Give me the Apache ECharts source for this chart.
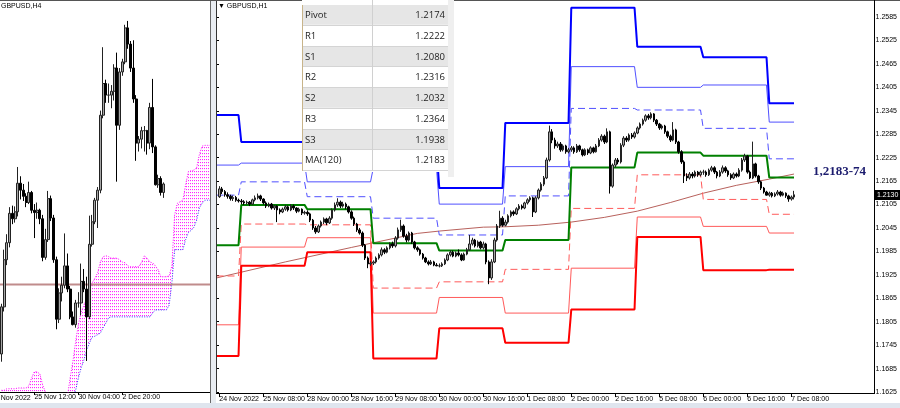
<!DOCTYPE html>
<html><head><meta charset="utf-8">
<script src="https://cdn.jsdelivr.net/npm/echarts@6/dist/echarts.min.js"></script>
<style>html,body{margin:0;padding:0;background:#fff}#c{width:900px;height:408px}</style>
</head><body><div id="c"></div>
<script>
// ================= DATA =================
const h1TickLabels = ['24 Nov 2022','25 Nov 08:00','28 Nov 00:00','28 Nov 16:00','29 Nov 08:00','30 Nov 00:00','30 Nov 16:00','1 Dec 08:00','2 Dec 00:00','2 Dec 16:00','5 Dec 08:00','6 Dec 00:00','6 Dec 16:00','7 Dec 08:00'];
const h4TickLabels = ['25 Nov 12:00','30 Nov 04:00','2 Dec 20:00'];
const h4FirstLabel = '24 Nov 2022';
const priceTickMin = 1.1625, priceTickMax = 1.2585, priceTickStep = 0.006;

// H1 bars: [open, close, low, high]
const h1Bars = [
[1.2125,1.2145,1.2122,1.2152],[1.2145,1.2138,1.2132,1.2150],[1.2138,1.2130,1.2125,1.2142],[1.2130,1.2126,1.2120,1.2136],
[1.2126,1.2120,1.2115,1.2130],[1.2120,1.2123,1.2114,1.2128],[1.2123,1.2116,1.2112,1.2127],[1.2116,1.2114,1.2110,1.2120],
[1.2114,1.2112,1.2106,1.2119],[1.2112,1.2109,1.2104,1.2116],[1.2109,1.2111,1.2105,1.2115],[1.2111,1.2106,1.2101,1.2114],
[1.2106,1.2117,1.2104,1.2120],[1.2117,1.2122,1.2113,1.2128],[1.2122,1.2127,1.2118,1.2133],[1.2127,1.2119,1.2114,1.2130],
[1.2119,1.2109,1.2105,1.2121],[1.2109,1.2101,1.2096,1.2113],[1.2101,1.2106,1.2098,1.2110],[1.2106,1.2096,1.2092,1.2109],
[1.2096,1.2101,1.2091,1.2104],[1.2101,1.2091,1.2060,1.2103],[1.2091,1.2086,1.2080,1.2095],[1.2086,1.2093,1.2083,1.2097],
[1.2093,1.2099,1.2089,1.2104],[1.2099,1.2091,1.2087,1.2102],[1.2091,1.2101,1.2088,1.2106],[1.2101,1.2096,1.2091,1.2105],
[1.2096,1.2088,1.2083,1.2098],[1.2088,1.2093,1.2085,1.2097],[1.2093,1.2083,1.2078,1.2095],[1.2083,1.2085,1.2079,1.2089],
[1.2085,1.2081,1.2076,1.2090],[1.2081,1.2065,1.2060,1.2084],[1.2065,1.2045,1.2040,1.2068],[1.2045,1.2035,1.2030,1.2050],
[1.2035,1.2050,1.2032,1.2054],[1.2050,1.2060,1.2046,1.2064],[1.2060,1.2068,1.2055,1.2072],[1.2068,1.2058,1.2052,1.2071],
[1.2058,1.2070,1.2055,1.2075],[1.2070,1.2091,1.2066,1.2095],[1.2091,1.2104,1.2087,1.2110],[1.2104,1.2111,1.2099,1.2121],
[1.2111,1.2101,1.2096,1.2115],[1.2101,1.2106,1.2097,1.2112],[1.2106,1.2099,1.2093,1.2110],[1.2099,1.2086,1.2082,1.2102],
[1.2086,1.2070,1.2066,1.2090],[1.2070,1.2055,1.2050,1.2074],[1.2055,1.2040,1.2035,1.2058],[1.2040,1.2032,1.2028,1.2045],
[1.2032,1.2001,1.1996,1.2036],[1.2001,1.1968,1.1963,1.2004],[1.1968,1.1953,1.1942,1.1972],[1.1953,1.1955,1.1948,1.1960],
[1.1955,1.1958,1.1950,1.1962],[1.1958,1.1968,1.1954,1.1972],[1.1968,1.1976,1.1964,1.1980],[1.1976,1.1989,1.1972,1.1995],
[1.1989,1.1983,1.1978,1.1993],[1.1983,1.1994,1.1980,1.1998],[1.1994,1.2004,1.1990,1.2008],[1.2004,1.1999,1.1994,1.2010],
[1.1999,1.2019,1.1995,1.2024],[1.2019,1.2040,1.2015,1.2046],[1.2040,1.2050,1.2035,1.2066],[1.2050,1.2024,1.2020,1.2054],
[1.2024,1.2014,1.2008,1.2030],[1.2014,1.2032,1.2010,1.2036],[1.2032,1.2009,1.2004,1.2035],[1.2009,1.1994,1.1990,1.2012],
[1.1994,1.1989,1.1984,1.1998],[1.1989,1.1978,1.1974,1.1992],[1.1978,1.1968,1.1964,1.1981],[1.1968,1.1958,1.1955,1.1971],
[1.1958,1.1953,1.1949,1.1962],[1.1953,1.1958,1.1950,1.1963],[1.1958,1.1950,1.1947,1.1961],[1.1950,1.1948,1.1947,1.1955],
[1.1948,1.1948,1.1944,1.1954],[1.1948,1.1953,1.1945,1.1957],[1.1953,1.1963,1.1950,1.1967],[1.1963,1.1976,1.1960,1.1980],
[1.1976,1.1983,1.1972,1.1988],[1.1983,1.1973,1.1970,1.1987],[1.1973,1.1981,1.1970,1.1985],[1.1981,1.1976,1.1972,1.1990],
[1.1976,1.1963,1.1960,1.1980],[1.1963,1.1978,1.1961,1.1982],[1.1978,1.1989,1.1975,1.1994],[1.1989,1.2004,1.1986,1.2027],
[1.2004,1.2014,1.2000,1.2020],[1.2014,1.1999,1.1995,1.2017],[1.1999,1.2009,1.1995,1.2013],[1.2009,1.1994,1.1990,1.2012],
[1.1994,1.2004,1.1990,1.2010],[1.2004,1.1958,1.1952,1.2007],[1.1958,1.1917,1.1901,1.1962],[1.1917,1.1958,1.1912,1.1965],
[1.1958,1.2014,1.1955,1.2020],[1.2014,1.2050,1.2010,1.2055],[1.2050,1.2070,1.2045,1.2089],[1.2070,1.2052,1.2048,1.2075],
[1.2052,1.2060,1.2049,1.2066],[1.2060,1.2076,1.2056,1.2080],[1.2076,1.2086,1.2072,1.2090],[1.2086,1.2081,1.2076,1.2090],
[1.2081,1.2094,1.2078,1.2098],[1.2094,1.2101,1.2090,1.2106],[1.2101,1.2096,1.2092,1.2105],[1.2096,1.2109,1.2093,1.2112],
[1.2109,1.2117,1.2105,1.2121],[1.2117,1.2122,1.2112,1.2126],[1.2122,1.2086,1.2073,1.2125],[1.2086,1.2122,1.2083,1.2126],
[1.2122,1.2142,1.2118,1.2146],[1.2142,1.2157,1.2138,1.2162],[1.2157,1.2173,1.2152,1.2178],[1.2173,1.2219,1.2170,1.2225],
[1.2219,1.2291,1.2215,1.2307],[1.2291,1.2270,1.2262,1.2298],[1.2270,1.2255,1.2248,1.2276],[1.2255,1.2260,1.2250,1.2266],
[1.2260,1.2245,1.2240,1.2265],[1.2245,1.2255,1.2241,1.2259],[1.2255,1.2240,1.2235,1.2258],[1.2240,1.2245,1.2236,1.2250],
[1.2245,1.2250,1.2240,1.2255],[1.2250,1.2240,1.2235,1.2254],[1.2240,1.2255,1.2237,1.2260],[1.2255,1.2245,1.2240,1.2258],
[1.2245,1.2232,1.2228,1.2248],[1.2232,1.2245,1.2229,1.2249],[1.2245,1.2237,1.2232,1.2248],[1.2237,1.2250,1.2234,1.2254],
[1.2250,1.2240,1.2236,1.2253],[1.2240,1.2255,1.2238,1.2260],[1.2255,1.2270,1.2252,1.2275],[1.2270,1.2280,1.2266,1.2285],
[1.2280,1.2265,1.2260,1.2284],[1.2265,1.2291,1.2262,1.2300],[1.2291,1.2152,1.2133,1.2294],[1.2152,1.2206,1.2148,1.2210],
[1.2206,1.2219,1.2200,1.2224],[1.2219,1.2214,1.2208,1.2224],[1.2214,1.2257,1.2210,1.2262],[1.2257,1.2275,1.2252,1.2280],
[1.2275,1.2270,1.2265,1.2280],[1.2270,1.2283,1.2266,1.2287],[1.2283,1.2278,1.2273,1.2288],[1.2278,1.2288,1.2274,1.2292],
[1.2288,1.2301,1.2285,1.2305],[1.2301,1.2311,1.2297,1.2315],[1.2311,1.2321,1.2307,1.2325],[1.2321,1.2332,1.2317,1.2336],
[1.2332,1.2327,1.2322,1.2337],[1.2327,1.2337,1.2323,1.2341],[1.2337,1.2321,1.2316,1.2339],[1.2321,1.2311,1.2306,1.2324],
[1.2311,1.2301,1.2296,1.2314],[1.2301,1.2306,1.2297,1.2310],[1.2306,1.2291,1.2286,1.2309],[1.2291,1.2280,1.2275,1.2294],
[1.2280,1.2270,1.2265,1.2284],[1.2270,1.2296,1.2267,1.2316],[1.2296,1.2265,1.2260,1.2299],[1.2265,1.2240,1.2235,1.2268],
[1.2240,1.2214,1.2209,1.2244],[1.2214,1.2178,1.2160,1.2218],[1.2178,1.2173,1.2165,1.2185],[1.2173,1.2183,1.2169,1.2188],
[1.2183,1.2178,1.2172,1.2188],[1.2178,1.2188,1.2174,1.2192],[1.2188,1.2181,1.2176,1.2191],[1.2181,1.2188,1.2177,1.2192],
[1.2188,1.2188,1.2181,1.2194],[1.2188,1.2181,1.2176,1.2192],[1.2181,1.2193,1.2178,1.2197],[1.2193,1.2199,1.2189,1.2204],
[1.2199,1.2188,1.2183,1.2203],[1.2188,1.2178,1.2172,1.2191],[1.2178,1.2188,1.2175,1.2193],[1.2188,1.2199,1.2184,1.2205],
[1.2199,1.2191,1.2186,1.2203],[1.2191,1.2181,1.2176,1.2194],[1.2181,1.2173,1.2168,1.2185],[1.2173,1.2183,1.2170,1.2187],
[1.2183,1.2178,1.2174,1.2187],[1.2178,1.2193,1.2175,1.2198],[1.2193,1.2219,1.2189,1.2224],[1.2219,1.2229,1.2214,1.2235],
[1.2229,1.2188,1.2184,1.2232],[1.2188,1.2173,1.2170,1.2192],[1.2173,1.2209,1.2170,1.2266],[1.2209,1.2178,1.2174,1.2212],
[1.2178,1.2163,1.2158,1.2181],[1.2163,1.2147,1.2142,1.2166],[1.2147,1.2137,1.2133,1.2150],[1.2137,1.2129,1.2128,1.2140],
[1.2129,1.2134,1.2125,1.2138],[1.2134,1.2127,1.2123,1.2137],[1.2127,1.2132,1.2124,1.2136],[1.2132,1.2137,1.2128,1.2142],
[1.2137,1.2129,1.2125,1.2140],[1.2129,1.2134,1.2126,1.2138],[1.2134,1.2127,1.2122,1.2136],[1.2127,1.2119,1.2112,1.2130],
[1.2119,1.2124,1.2115,1.2128],[1.2124,1.2130,1.2118,1.2140]
];

// H4 bars (left panel): [open, close, low, high]
const h4Bars = [
[1.1910,1.1971,1.1900,1.1975],[1.1971,1.2032,1.1965,1.2045],[1.2032,1.2054,1.2025,1.2065],[1.2054,1.2092,1.2048,1.2100],
[1.2092,1.2085,1.2078,1.2102],[1.2085,1.2094,1.2080,1.2101],[1.2094,1.2131,1.2088,1.2152],[1.2131,1.2122,1.2110,1.2140],
[1.2122,1.2114,1.2108,1.2130],[1.2114,1.2106,1.2100,1.2118],[1.2106,1.2119,1.2104,1.2133],[1.2119,1.2096,1.2092,1.2121],
[1.2096,1.2093,1.2060,1.2104],[1.2093,1.2096,1.2085,1.2106],[1.2096,1.2085,1.2078,1.2098],[1.2085,1.2035,1.2030,1.2090],
[1.2035,1.2058,1.2032,1.2072],[1.2058,1.2111,1.2055,1.2121],[1.2111,1.2086,1.2082,1.2115],[1.2086,1.2032,1.2028,1.2090],
[1.2032,1.1955,1.1942,1.2036],[1.1955,1.1989,1.1950,1.1995],[1.1989,1.1999,1.1978,1.2010],[1.1999,1.2024,1.1995,1.2066],
[1.2024,1.1994,1.1990,1.2040],[1.1994,1.1958,1.1955,1.1998],[1.1958,1.1948,1.1947,1.1965],[1.1948,1.1976,1.1944,1.1980],
[1.1976,1.1976,1.1970,1.1990],[1.1976,1.2004,1.1960,1.2027],[1.2004,1.1994,1.1990,1.2020],[1.1994,1.1958,1.1901,1.2010],
[1.1958,1.2052,1.1955,1.2089],[1.2052,1.2081,1.2049,1.2090],[1.2081,1.2109,1.2078,1.2112],[1.2109,1.2122,1.2073,1.2126],
[1.2122,1.2219,1.2118,1.2225],[1.2219,1.2260,1.2215,1.2307],[1.2260,1.2245,1.2235,1.2265],[1.2245,1.2245,1.2235,1.2260],
[1.2245,1.2250,1.2228,1.2258],[1.2250,1.2280,1.2238,1.2285],[1.2280,1.2206,1.2133,1.2300],[1.2206,1.2275,1.2200,1.2280],
[1.2275,1.2288,1.2270,1.2292],[1.2288,1.2332,1.2285,1.2336],[1.2332,1.2311,1.2305,1.2341],[1.2311,1.2280,1.2275,1.2315],
[1.2280,1.2240,1.2235,1.2316],[1.2240,1.2183,1.2160,1.2245],[1.2183,1.2188,1.2172,1.2192],[1.2188,1.2199,1.2176,1.2204],
[1.2199,1.2199,1.2172,1.2205],[1.2199,1.2183,1.2168,1.2200],[1.2183,1.2229,1.2175,1.2235],[1.2229,1.2178,1.2170,1.2266],
[1.2178,1.2129,1.2128,1.2180],[1.2129,1.2137,1.2125,1.2142],[1.2137,1.2119,1.2115,1.2140],[1.2119,1.2130,1.2112,1.2132]
];

// Ichimoku cloud spans on the H4 panel (one value per H4 bar slot, incl. forward shift)
const cloudSpanA = [1.1863,1.1863,1.1865,1.1865,1.1865,1.1865,1.1866,1.1866,1.1866,1.1866,1.1869,1.1879,1.1887,1.1887,1.1884,1.1870,
1.1861,1.1850,1.1850,1.1850,1.1850,1.1850,1.1850,1.1850,1.1854,1.1879,1.1900,1.1926,1.1948,1.1964,1.1973,1.1982,
1.1992,1.2002,1.2008,1.2015,1.2029,1.2036,1.2037,1.2036,1.2034,1.2034,1.2034,1.2032,1.2029,1.2028,1.2024,1.2023,
1.2023,1.2023,1.2023,1.2029,1.2037,1.2034,1.2029,1.2028,1.2024,1.2019,1.2010,1.2010,1.2010,1.2011,1.2024,1.2090,
1.2105,1.2107,1.2109,1.2129,1.2146,1.2147,1.2148,1.2151,1.2168,1.2179,1.2180,1.2180,1.2180];
const cloudSpanB = [1.1835,1.1835,1.1835,1.1835,1.1835,1.1835,1.1835,1.1835,1.1835,1.1835,1.1835,1.1835,1.1835,1.1835,1.1835,1.1835,
1.1835,1.1835,1.1835,1.1835,1.1835,1.1835,1.1835,1.1835,1.1835,1.1844,1.1854,1.1863,1.1879,1.1892,1.1902,1.1915,
1.1924,1.1932,1.1933,1.1935,1.1937,1.1944,1.1950,1.1957,1.1958,1.1958,1.1958,1.1958,1.1958,1.1958,1.1958,1.1958,
1.1958,1.1958,1.1958,1.1958,1.1958,1.1958,1.1958,1.1963,1.1967,1.1967,1.1967,1.1967,1.1967,1.1973,1.2002,1.2045,
1.2045,1.2045,1.2045,1.2058,1.2067,1.2070,1.2074,1.2083,1.2099,1.2105,1.2109,1.2109,1.2109];
const h4LevelLine = 1.2000;

// Daily pivot levels (one per trading day shown on H1)
const dayStart = [0,8,32,56,80,104,128,152,176,200];
const dayEnd   = [7,31,55,79,103,127,151,175,199,209];
const levR3 = [1.2334,1.2265,1.2197,1.2249,1.2147,1.2314,1.2609,1.2509,1.2482,1.2364];
const levR2 = [1.2206,1.2211,1.2163,1.2198,1.2106,1.2202,1.2458,1.2405,1.2411,1.2316];
const levR1 = [1.2129,1.2163,1.2125,1.2070,1.2027,1.2127,1.2351,1.2347,1.2300,1.2222];
const levP  = [1.2001,1.2104,1.2093,1.2006,1.1987,1.2014,1.2200,1.2238,1.2230,1.2174];
const levS1 = [1.1922,1.2055,1.2053,1.1891,1.1907,1.1939,1.2095,1.2181,1.2118,1.2080];
const levS2 = [1.1797,1.1996,1.2020,1.1827,1.1867,1.1827,1.1942,1.2073,1.2049,1.2032];
const levS3 = [1.1717,1.1948,1.1983,1.1711,1.1788,1.1751,1.1836,1.2022,1.1937,1.1938];

// MA(120) read at selected bars
const maIdx = [-1,24,48,56,72,80,96,104,116,128,140,152,164,176,188,200,209];
const maVal = [1.1917,1.1958,1.1995,1.2007,1.2031,1.2037,1.2047,1.2048,1.2052,1.2060,1.2072,1.2088,1.2110,1.2134,1.2154,1.2170,1.2183];

// Table
const tableLabels = ['Pivot','R1','S1','R2','S2','R3','S3','MA(120)'];
const tableValues = ['1.2174','1.2222','1.2080','1.2316','1.2032','1.2364','1.1938','1.2183'];
const lastPrice = 1.2130;
const noteText = '1,2183-74';

// ================= CHART =================
const FONT = '"Liberation Sans", Arial, sans-serif';
const N_LEFT = 77, N_RIGHT = 238, PITCH = 2.75;
const chart = echarts.init(document.getElementById('c'), null, {renderer: 'canvas'});

// dotted pattern for the cloud fill
const pat = document.createElement('canvas');
pat.width = 2; pat.height = 3;
(function () {
  const c = pat.getContext('2d');
  c.fillStyle = 'rgba(255,0,255,0.85)';
  c.fillRect(0, 0, 1, 1);
  c.fillStyle = 'rgba(255,0,255,0.10)';
  c.fillRect(0, 1, 1, 1);
})();

function stepData(levels) {
  const out = [];
  levels.forEach((v, d) => {
    out.push([d === 0 ? dayStart[0] - 1 : dayStart[d], v]);
    out.push([dayEnd[d], v]);
  });
  return out;
}
function levelSeries(levels, color, width, type) {
  return {type: 'line', xAxisIndex: 3, yAxisIndex: 1, data: stepData(levels), symbol: 'none',
    clip: false, silent: true, lineStyle: {color, width, type}, z: 3};
}
const candleStyle = {color: '#a6a6a6', color0: '#000000', borderColor: '#222222', borderColor0: '#000000', borderWidth: 1};

const option = {
  animation: false,
  backgroundColor: '#ffffff',
  grid: [
    {left: 0, top: 2, width: N_LEFT * PITCH, height: 390},
    {left: 217.9, top: 2, width: N_RIGHT * PITCH, height: 391},
    {left: 216, top: 17, width: 658, height: 375}
  ],
  xAxis: [
    {type: 'category', gridIndex: 0, data: Array.from({length: N_LEFT}, (_, i) => i), boundaryGap: true,
      axisLine: {show: true, lineStyle: {color: '#000', width: 1}},
      axisTick: {show: true, alignWithLabel: true, length: 3, lineStyle: {color: '#000'},
        interval: (i) => i >= 12 && i <= 44 && (i - 12) % 16 === 0},
      axisLabel: {show: true, align: 'left', margin: 2, fontSize: 7, color: '#000', fontFamily: FONT,
        interval: (i) => i >= 12 && i <= 44 && (i - 12) % 16 === 0,
        formatter: (v, i) => h4TickLabels[(i - 12) / 16] || ''},
      splitLine: {show: false}},
    {type: 'value', gridIndex: 0, min: -0.5, max: N_LEFT - 0.5, show: false},
    {type: 'category', gridIndex: 1, data: Array.from({length: N_RIGHT}, (_, i) => i), boundaryGap: true,
      axisLine: {show: true, lineStyle: {color: '#000', width: 1}},
      axisTick: {show: true, alignWithLabel: true, length: 4, lineStyle: {color: '#000'},
        interval: (i) => i % 16 === 0 && i / 16 < h1TickLabels.length},
      axisLabel: {show: true, align: 'left', margin: 3, fontSize: 7, color: '#000', fontFamily: FONT,
        interval: (i) => i % 16 === 0 && i / 16 < h1TickLabels.length,
        formatter: (v, i) => h1TickLabels[i / 16] || ''},
      splitLine: {show: false}},
    {type: 'value', gridIndex: 1, min: -0.5, max: N_RIGHT - 0.5, show: false},
    {type: 'value', gridIndex: 2, min: 0, max: 1, show: false}
  ],
  yAxis: [
    {type: 'value', gridIndex: 0, min: 1.18608, max: 1.23655, show: false, scale: true},
    {type: 'value', gridIndex: 1, min: 1.16224, max: 1.26235, show: false, scale: true},
    {type: 'value', gridIndex: 2, position: 'right', min: priceTickMin, max: priceTickMax, interval: priceTickStep,
      axisLine: {show: false}, splitLine: {show: false},
      axisTick: {show: true, length: 3, lineStyle: {color: '#000'}},
      axisLabel: {show: true, margin: 4, fontSize: 7, color: '#000', fontFamily: FONT, formatter: (v) => v.toFixed(4)}}
  ],
  series: [
    // ---- left H4 panel ----
    {type: 'custom', xAxisIndex: 1, yAxisIndex: 0, clip: true, silent: true, z: 1,
      data: [0],
      renderItem: (params, api) => {
        const pts = [];
        cloudSpanA.forEach((a, j) => pts.push(api.coord([j, a])));
        for (let j = cloudSpanB.length - 1; j >= 0; j--) pts.push(api.coord([j, cloudSpanB[j]]));
        return {type: 'polygon', shape: {points: pts}, style: {fill: {image: pat, repeat: 'repeat'}, stroke: null}};
      }},
    {type: 'line', xAxisIndex: 1, yAxisIndex: 0, data: cloudSpanA.map((a, j) => [j, a]), symbol: 'none', silent: true, z: 2,
      lineStyle: {color: '#ff00ff', width: 1, type: [1, 1.5]}},
    {type: 'line', xAxisIndex: 1, yAxisIndex: 0, data: cloudSpanB.map((b, j) => [j, b]), symbol: 'none', silent: true, z: 2,
      lineStyle: {color: '#3030ff', width: 1, type: [1, 1.5]}},
    {type: 'line', xAxisIndex: 1, yAxisIndex: 0, data: [[-0.5, h4LevelLine], [N_LEFT - 0.5, h4LevelLine]], symbol: 'none', silent: true, z: 3,
      lineStyle: {color: '#c08c8c', width: 2}},
    {type: 'candlestick', xAxisIndex: 0, yAxisIndex: 0, data: h4Bars, barWidth: 2.4, silent: true, z: 5, itemStyle: candleStyle},
    // ---- right H1 panel ----
    {type: 'line', xAxisIndex: 3, yAxisIndex: 1, data: maIdx.map((x, k) => [x, maVal[k]]), symbol: 'none', clip: false,
      silent: true, z: 3, lineStyle: {color: '#b8615c', width: 1}},
    levelSeries(levS2, '#ff5a5a', 1, 'solid'),
    levelSeries(levS1, '#ff5a5a', 1, [7, 4]),
    levelSeries(levR2, '#5050ff', 1, 'solid'),
    levelSeries(levR1, '#5050ff', 1, [7, 4]),
    levelSeries(levS3, '#ff0000', 2, 'solid'),
    levelSeries(levR3, '#0000ff', 2, 'solid'),
    levelSeries(levP, '#008000', 2, 'solid'),
    {type: 'candlestick', xAxisIndex: 2, yAxisIndex: 1, data: h1Bars, barWidth: 2, silent: true, z: 5, itemStyle: candleStyle}
  ]
};
chart.setOption(option);

// ---------- overlay graphics ----------
function txt(x, y, text, font, fill, align) {
  return {type: 'text', x, y, z: 200, silent: true,
    style: {text, font, fill, align: align || 'left', verticalAlign: 'middle'}};
}
function hline(x1, x2, y, color, z) {
  return {type: 'line', z: z || 150, silent: true, shape: {x1, y1: y, x2, y2: y}, style: {stroke: color, lineWidth: 1}};
}
function vline(x, y1, y2, color, z) {
  return {type: 'line', z: z || 150, silent: true, shape: {x1: x, y1, x2: x, y2}, style: {stroke: color, lineWidth: 1}};
}
const g = [];
// frame
g.push({type: 'rect', z: 140, silent: true, shape: {x: 0, y: 403, width: 900, height: 5}, style: {fill: '#dfe5ee'}});
g.push({type: 'rect', z: 140, silent: true, shape: {x: 210, y: 0, width: 6, height: 403}, style: {fill: '#e9edf2'}});
g.push(vline(210.5, 0, 403, '#6a6a6a'));
g.push(vline(216.5, 0, 394, '#333'));
g.push(hline(0, 900, 0.5, '#555'));
g.push(hline(216, 875, 393.5, '#000'));
g.push(vline(874.5, 0, 394, '#000'));
// titles
g.push(txt(1, 6, 'GBPUSD,H4', '7px ' + FONT, '#000'));
g.push(txt(218, 6, '\u25BC GBPUSD,H1', '7px ' + FONT, '#000'));
g.push(txt(-9, 398, h4FirstLabel, '7px ' + FONT, '#000'));
// table
const tX = 302, tW = 146, tTop = 5, rowH = 20.75;
const tBottom = tTop + rowH * tableLabels.length;
g.push({type: 'rect', z: 160, silent: true, shape: {x: tX, y: 0, width: tW, height: tBottom + 1}, style: {fill: '#ffffff'}});
g.push({type: 'rect', z: 160, silent: true, shape: {x: tX + tW, y: 0, width: 6, height: tBottom + 6}, style: {fill: '#efefef'}});
tableLabels.forEach((lab, r) => {
  const y0 = tTop + r * rowH;
  g.push({type: 'rect', z: 161, silent: true, shape: {x: tX, y: y0, width: tW, height: rowH - 1},
    style: {fill: r % 2 === 0 ? '#e6e6e6' : '#ffffff'}});
  g.push(hline(tX, tX + tW, Math.round(y0 + rowH) - 0.5, '#d4d4d4', 162));
  g.push(txt(tX + 3, y0 + rowH / 2, lab, '9.5px "Open Sans", sans-serif', '#222'));
  g.push(txt(tX + tW - 3, y0 + rowH / 2, tableValues[r], '9.5px "Open Sans", sans-serif', '#222', 'right'));
});
g.push(vline(372.5, 0, tBottom, '#d0d0d0', 163));
g.push(vline(302.5, tTop, tBottom, '#c8b48a', 163));
// annotation
g.push(txt(813, 172, noteText, 'bold 13px "Liberation Serif", "Times New Roman", serif', '#1c1c6e'));
// last price box
const py = chart.convertToPixel({yAxisIndex: 1}, lastPrice);
g.push({type: 'rect', z: 170, silent: true, shape: {x: 875, y: Math.round(py) - 5, width: 25, height: 10}, style: {fill: '#000'}});
g.push(txt(877, Math.round(py), lastPrice.toFixed(4), '7px ' + FONT, '#fff'));

chart.setOption({graphic: {elements: g}});
</script>
</body></html>
